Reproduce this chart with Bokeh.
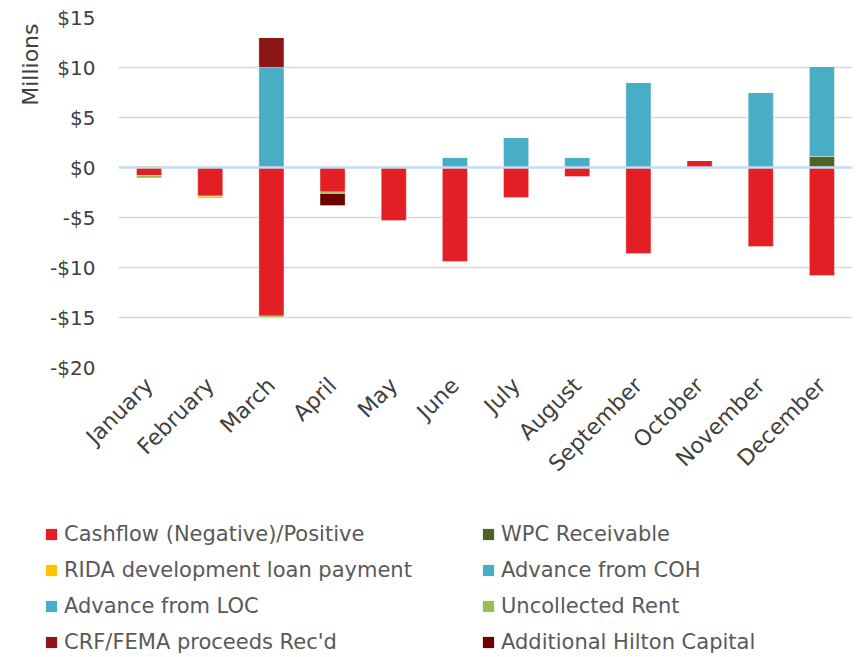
import math
from bokeh.plotting import figure
from bokeh.layouts import column
from bokeh.models import Range1d, FixedTicker, Span, Legend, LegendItem, Title
from bokeh.embed import file_html
from bokeh.resources import INLINE

months = ["January", "February", "March", "April", "May", "June", "July",
          "August", "September", "October", "November", "December"]

# values in $ millions
cashflow  = [-0.8, -2.85, -14.85, -2.45, -5.3, -9.4, -3.0, -0.9, -8.6, 0.7, -7.9, -10.8]
rida      = [0.2, -0.1, 0.0, 0.0, 0.0, 0.0, 0.0, 0.0, 0.0, 0.0, 0.0, 0.0]
adv_loc   = [0.0, 0.0, 10.0, 0.0, 0.0, 0.0, 0.0, 0.0, 0.0, 0.0, 0.0, 0.0]
crf_fema  = [0.0, 0.0, 3.0, 0.0, 0.0, 0.0, 0.0, 0.0, 0.0, 0.0, 0.0, 0.0]
wpc       = [0.0, 0.0, 0.0, 0.0, 0.0, 0.0, 0.0, 0.0, 0.0, 0.0, 0.0, 1.1]
adv_coh   = [0.0, 0.0, 0.0, 0.0, 0.0, 1.0, 3.0, 1.0, 8.5, 0.0, 7.5, 9.0]
uncollect = [-0.25, -0.1, -0.15, -0.15, 0.0, 0.0, 0.0, 0.0, 0.0, 0.0, 0.0, 0.0]
hilton    = [0.0, 0.0, 0.0, -1.2, 0.0, 0.0, 0.0, 0.0, 0.0, 0.0, 0.0, 0.0]

series = [
    ("Cashflow (Negative)/Positive", cashflow, "#E31E25"),
    ("RIDA development loan payment", rida, "#FFC000"),
    ("Advance from LOC", adv_loc, "#4BACC6"),
    ("CRF/FEMA proceeds Rec'd", crf_fema, "#8C1515"),
    ("WPC Receivable", wpc, "#4F6228"),
    ("Advance from COH", adv_coh, "#4AADC6"),
    ("Uncollected Rent", uncollect, "#9BBB59"),
    ("Additional Hilton Capital", hilton, "#6E0000"),
]

y_ticks = [-20, -15, -10, -5, 0, 5, 10, 15]
y_tick_labels = ["-$20", "-$15", "-$10", "-$5", "$0", "$5", "$10", "$15"]

FONT = "DejaVu Sans"

p = figure(width=856, height=495, output_backend="svg", toolbar_location=None,
           x_range=Range1d(0.5, 12.5), y_range=Range1d(-20, 15),
           min_border_left=118, min_border_right=4, min_border_top=17,
           min_border_bottom=128, outline_line_color=None)
p.frame_align = False

p.xgrid.grid_line_color = None
p.ygrid.grid_line_color = "#D9D9D9"
p.ygrid.grid_line_width = 1.5
p.ygrid.ticker = FixedTicker(ticks=y_ticks)

p.yaxis.ticker = FixedTicker(ticks=y_ticks)
p.yaxis.major_label_overrides = {t: l for t, l in zip(y_ticks, y_tick_labels)}
p.xaxis.ticker = FixedTicker(ticks=list(range(1, 13)))
p.xaxis.major_label_overrides = {i + 1: m for i, m in enumerate(months)}
p.xaxis.major_label_orientation = math.pi / 4
for ax in (p.xaxis, p.yaxis):
    ax.axis_line_color = None
    ax.major_tick_line_color = None
    ax.minor_tick_line_color = None
    ax.major_label_text_font = FONT
    ax.major_label_text_color = "#404040"
p.yaxis.major_label_text_font_size = "20px"
p.xaxis.major_label_text_font_size = "22px"
p.yaxis.major_label_standoff = 17
p.xaxis.major_label_standoff = 8

xs = list(range(1, 13))
pos = [0.0] * 12
neg = [0.0] * 12
stacks = []
for name, vals, color in series:
    bottoms, tops = [], []
    for i, v in enumerate(vals):
        if v >= 0:
            bottoms.append(pos[i]); tops.append(pos[i] + v); pos[i] += v
        else:
            tops.append(neg[i]); bottoms.append(neg[i] + v); neg[i] += v
    stacks.append((name, color, bottoms, tops))
    p.vbar(x=xs, bottom=bottoms, top=tops, width=0.41, fill_color=color,
           line_color="white", line_alpha=0.35, line_width=1)

p.add_layout(Span(location=0, dimension="width", line_color="#C6DDF4", line_width=2.5))

p.add_layout(Title(text="Millions", align="right", text_font=FONT,
                   text_font_size="22px", text_font_style="normal",
                   text_color="#404040", standoff=10, offset=6), "left")

# legend panel (its bars lie outside its visible range; only the legend shows)
lg = figure(width=856, height=162, output_backend="svg", toolbar_location=None,
            x_range=Range1d(100, 101), y_range=Range1d(100, 101),
            min_border=0, outline_line_color=None)
lg.frame_align = False
lg.axis.visible = False
lg.grid.visible = False
swatches = {}
for name, color, bottoms, tops in stacks:
    swatches[name] = lg.vbar(x=xs, bottom=bottoms, top=tops, width=0.41,
                             fill_color=color, line_color=None)

legend = Legend(items=[LegendItem(label=n, renderers=[swatches[n]]) for n, _, _, _ in stacks],
                ncols=2, location=(44, 3),
                label_text_font=FONT, label_text_font_size="21px",
                label_text_color="#595959", glyph_width=14, glyph_height=14,
                label_standoff=6, label_width=405, label_height=22, spacing=12,
                padding=0, margin=0, background_fill_alpha=0, border_line_color=None)
lg.add_layout(legend, "center")

layout = column(p, lg, spacing=0)
open("out.html", "w").write(file_html(layout, INLINE))
